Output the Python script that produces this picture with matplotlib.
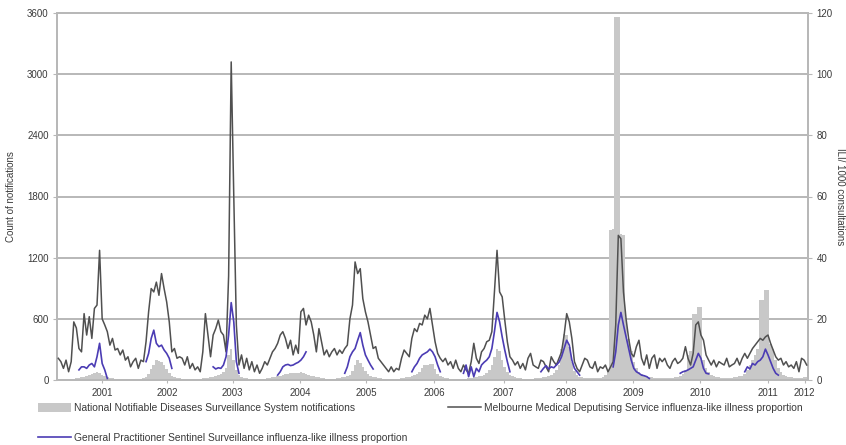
import matplotlib
matplotlib.use('Agg')
import matplotlib.pyplot as plt
import numpy as np
from matplotlib.patches import Patch
from matplotlib.lines import Line2D

plt.rcParams['font.family'] = ['Liberation Sans', 'DejaVu Sans']

nan = float('nan')

# Fortnightly samples (index k -> week 2k of the series)
mmds_ili = [
    7.1, 6.0, 3.8, 6.5, 2.7, 6.0, 19.0, 17.0, 10.3, 9.2,
    21.7, 14.7, 20.7, 13.6, 23.4, 24.5, 42.4, 20.0, 18.0, 15.8,
    11.4, 13.6, 9.8, 10.3, 8.2, 9.8, 6.5, 7.6, 4.3, 6.0,
    7.1, 3.8, 6.5, 6.0, 12.5, 22.3, 29.9, 28.8, 32.0, 27.7,
    34.8, 29.9, 25.5, 19.0, 9.2, 10.3, 7.1, 7.6, 7.1, 4.9,
    7.6, 3.8, 5.4, 3.3, 4.3, 2.7, 9.2, 21.7, 14.7, 7.6,
    14.7, 16.8, 19.6, 15.8, 14.7, 9.2, 34.0, 104.0, 60.0, 18.0,
    4.9, 8.2, 3.8, 7.1, 3.3, 6.0, 2.7, 4.9, 2.2, 3.8,
    6.0, 4.9, 7.1, 9.2, 10.3, 12.0, 14.7, 15.8, 13.6, 10.3,
    13.0, 8.2, 11.4, 8.7, 22.3, 23.4, 18.0, 21.2, 19.0, 14.7,
    9.2, 16.8, 12.5, 8.2, 9.8, 7.6, 9.2, 10.3, 8.2, 9.8,
    8.7, 10.3, 11.4, 20.0, 24.5, 38.6, 34.8, 36.4, 26.6, 22.3,
    19.0, 14.7, 10.3, 10.9, 7.1, 6.0, 4.9, 3.8, 2.7, 4.3,
    2.7, 3.8, 3.3, 7.1, 9.8, 8.7, 7.6, 13.6, 16.8, 15.8,
    18.5, 18.0, 21.2, 20.0, 23.4, 18.0, 12.5, 8.7, 7.1, 6.0,
    7.1, 4.9, 6.0, 3.8, 6.5, 3.8, 2.7, 4.9, 3.3, 2.2,
    6.0, 12.0, 7.1, 5.4, 9.2, 10.3, 12.5, 13.0, 15.8, 28.8,
    42.4, 28.8, 27.2, 19.6, 12.5, 7.6, 6.5, 4.9, 6.0, 3.8,
    5.4, 3.3, 7.1, 8.7, 4.9, 4.3, 3.8, 6.5, 6.0, 4.3,
    2.7, 7.6, 6.0, 4.9, 7.1, 9.2, 14.7, 21.7, 19.0, 13.6,
    6.0, 3.8, 2.7, 4.9, 7.1, 6.5, 4.3, 3.8, 6.0, 2.7,
    4.3, 3.8, 4.9, 2.7, 4.3, 6.0, 18.0, 47.3, 46.2, 28.8,
    20.0, 13.6, 8.7, 7.6, 10.9, 13.0, 7.1, 4.9, 8.2, 3.8,
    7.1, 8.2, 3.8, 7.1, 6.0, 7.1, 4.9, 3.8, 6.0, 7.1,
    5.4, 6.0, 7.1, 10.9, 7.1, 4.9, 8.7, 18.0, 19.0, 14.7,
    13.0, 8.2, 6.5, 4.9, 6.5, 4.3, 6.0, 5.4, 4.9, 7.1,
    4.3, 4.9, 5.4, 7.1, 4.9, 7.1, 8.7, 7.1, 8.7, 10.3,
    11.4, 12.5, 13.6, 13.0, 14.1, 14.7, 12.0, 9.8, 7.6, 6.5,
    7.1, 4.9, 6.0, 4.3, 4.9, 3.8, 6.0, 2.7, 7.1, 6.5, 4.9,
]

nndss_counts = [
    10, 8, 8, 6, 5, 6, 10,
    15, 20, 25, 30, 35, 45, 55, 65, 75, 70, 50, 35, 25,
    20, 15, 12, 10, 10, 8, 8, 6, 6, 8, 10, 10, 12, 15,
    30, 60, 110, 150, 200, 190, 180, 150, 110, 70, 40,
    25, 20, 15, 12, 10, 10, 8, 8, 8, 10, 12, 15,
    20, 20, 25, 30, 40, 50, 60, 80, 120, 250, 300, 200, 100, 50,
    30, 20, 15, 12, 10, 10, 8, 8, 10, 12, 15, 20, 25, 30,
    35, 40, 45, 55, 60, 65, 70, 65, 70, 75, 70, 60, 50, 40, 35,
    30, 25, 20, 15, 12, 10, 10, 12, 15, 20, 25, 30, 35,
    50, 90, 150, 195, 170, 130, 90, 60, 40, 30,
    25, 20, 15, 12, 10, 8, 8, 8, 10, 12, 15, 20, 25, 30,
    40, 50, 60, 80, 120, 145, 150, 160, 155, 110, 60, 35,
    25, 20, 15, 12, 10, 10, 8, 8, 10, 12, 15, 20, 25, 30, 35, 40, 50,
    70, 100, 150, 230, 300, 280, 200, 130, 80, 50, 35,
    25, 20, 15, 12, 10, 10, 10, 12, 15, 18, 20, 25, 30, 40, 50, 70,
    100, 150, 300, 450, 440, 320, 180, 90, 50, 30,
    25, 20, 18, 15, 15, 15, 18, 20, 30, 50, 100,
    1470, 1480, 3560, 3560, 1430, 1420, 600, 400, 280, 180, 120, 80, 60, 45, 35, 30,
    25, 20, 20, 18, 15, 15, 15, 18, 20, 25, 30,
    40, 60, 100, 250, 280, 650, 650, 720, 720, 200, 120, 80, 50,
    40, 30, 25, 20, 20, 18, 18, 20, 25, 30, 35, 40,
    60, 100, 150, 200, 250, 300, 780, 780, 880, 880, 350, 300, 200, 120, 80, 50, 40, 30,
    25, 20, 20, 18, 20, 25, 30,
]

# GP sentinel ILI per season: (first sample index, values)
gp_2001 = (8, [3.3, 4.3, 4.3, 3.8, 4.9, 5.4, 4.3, 7.6, 12.0, 5.4, 3.3, 0.5])
gp_2002 = (34, [6.0, 8.7, 13.6, 16.3, 12.0, 10.9, 11.4, 9.8, 8.7, 7.1, 3.8])
gp_2003 = (60, [4.3, 3.6, 4.0, 3.8, 4.9, 7.6, 14.7, 25.3, 19.0, 6.0, 2.2])
gp_2004 = (85, [1.6, 2.7, 4.3, 4.9, 5.1, 4.7, 4.9, 5.4, 5.8, 6.5, 7.6, 9.2])
gp_2005 = (111, [2.2, 4.3, 7.6, 9.2, 10.3, 13.0, 15.5, 11.4, 8.2, 6.5, 4.9, 3.6])
gp_2006 = (137, [2.7, 4.3, 5.4, 7.1, 8.2, 8.7, 9.2, 10.1, 9.2, 7.6, 4.9, 2.7])
gp_2007 = (157, [2.2, 4.9, 1.1, 4.3, 1.1, 3.8, 2.7, 4.9, 5.8, 6.5, 7.6, 10.3, 15.8,
                 22.1, 19.0, 14.1, 9.8, 6.0, 2.7])
gp_2008 = (187, [2.7, 3.8, 4.7, 3.6, 4.3, 4.0, 4.9, 5.8, 7.6, 10.3, 13.0, 11.4, 6.5,
                 3.8, 2.7, 1.6])
gp_2009 = (215, [4.3, 9.2, 18.0, 22.1, 18.0, 14.1, 10.3, 6.5, 3.8, 2.7, 2.2, 1.6,
                 1.4, 1.1, 0.5])
gp_2010 = (241, [2.2, 2.7, 2.9, 3.3, 3.8, 4.3, 6.5, 8.7, 7.1, 3.8, 2.2, 2.0])
gp_2011 = (266, [2.7, 4.3, 3.6, 5.4, 4.9, 6.0, 6.5, 7.6, 10.1, 8.2, 6.0, 3.8, 2.2, 1.6])
gp_seasons = [gp_2001, gp_2002, gp_2003, gp_2004, gp_2005, gp_2006,
              gp_2007, gp_2008, gp_2009, gp_2010, gp_2011]

year_labels = ['2001', '2002', '2003', '2004', '2005', '2006',
               '2007', '2008', '2009', '2010', '2011', '2012']

assert len(mmds_ili) == len(nndss_counts), (len(mmds_ili), len(nndss_counts))

n = len(mmds_ili)
weeks = np.arange(n) * 2.0
gp = np.full(n, np.nan)
for start, vals in gp_seasons:
    gp[start:start + len(vals)] = vals

year_tick_weeks = [34.0, 84.2, 135.1, 187.6, 238.6, 291.1, 345.2, 393.8,
                   445.6, 497.3, 549.8, 578.4]

fig = plt.figure(figsize=(8.46, 4.45), dpi=100)
ax = fig.add_axes([57 / 846, 1 - 380 / 445, 751 / 846, 367 / 445])

grid_c = '#b8b8b8'
text_c = '#3a3a3a'
fs = 7

ax.bar(weeks, nndss_counts, width=2.0, color='#c8c8c8', linewidth=0, zorder=2)
ax.set_xlim(-1, 581)
ax.set_ylim(0, 3600)
ax.set_yticks(range(0, 3601, 600))
ax.yaxis.grid(True, color=grid_c, lw=1.4)
ax.set_axisbelow(True)
ax.set_xticks(year_tick_weeks)
ax.set_xticklabels(year_labels)
ax.tick_params(axis='x', length=2, color=grid_c, labelsize=fs, labelcolor=text_c, pad=4)
ax.tick_params(axis='y', length=3, color=grid_c, labelsize=fs, labelcolor=text_c, pad=3)
ax.set_ylabel('Count of notifications', fontsize=fs, color=text_c)
ax.yaxis.set_label_coords(-0.055, 0.5)

ax2 = ax.twinx()
ax2.plot(weeks, mmds_ili, color='#505050', lw=1.1, zorder=3)
ax2.plot(weeks, gp, color='#4b3cb4', lw=1.2, zorder=4)
ax2.set_ylim(0, 120)
ax2.set_yticks(range(0, 121, 20))
ax2.tick_params(axis='y', length=3, color=grid_c, labelsize=fs, labelcolor=text_c, pad=3)
ax2.set_ylabel('ILI/ 1000 consultations', fontsize=fs, color=text_c, rotation=270,
               va='center')
ax2.yaxis.set_label_coords(1.043, 0.5)

for a in (ax, ax2):
    for s in a.spines.values():
        s.set_color(grid_c)
        s.set_linewidth(1.4)

handles = [
    Patch(facecolor='#c8c8c8', edgecolor='none',
          label='National Notifiable Diseases Surveillance System notifications'),
    Line2D([], [], color='#4b3cb4', lw=1.2,
           label='General Practitioner Sentinel Surveillance influenza-like illness proportion'),
    Line2D([], [], color='#505050', lw=1.1,
           label='Melbourne Medical Deputising Service influenza-like illness proportion'),
]
leg = fig.legend(handles=handles, ncol=2, loc='upper left',
                 bbox_to_anchor=(38 / 846, 1 - 403 / 445), frameon=False,
                 fontsize=7.4, handlelength=3.2, handleheight=1.0,
                 columnspacing=4.0, labelspacing=1.9, handletextpad=0.3,
                 borderaxespad=0, borderpad=0)
for t in leg.get_texts():
    t.set_color(text_c)

fig.savefig('out.png', dpi=100)
